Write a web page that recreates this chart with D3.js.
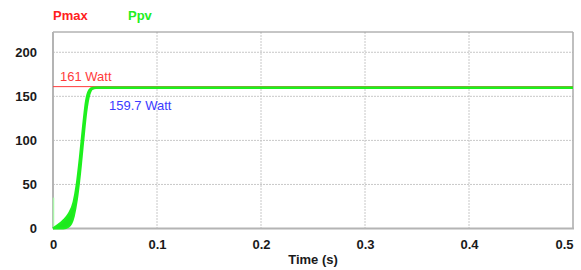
<!DOCTYPE html>
<html><head><meta charset="utf-8">
<script src="https://cdn.jsdelivr.net/npm/d3@7"></script>
<style>body{margin:0;background:#fff;}svg{display:block;font-family:"Liberation Sans",Arial,sans-serif;}</style>
</head><body>
<svg id="c" width="581" height="270"></svg>
<script>
const xTicks = [0, 0.1, 0.2, 0.3, 0.4, 0.5];
const xTickLabels = ["0", "0.1", "0.2", "0.3", "0.4", "0.5"];
const yTicks = [0, 50, 100, 150, 200];
const yTickLabels = ["0", "50", "100", "150", "200"];
const time = [0, 0.005, 0.01, 0.015, 0.02, 0.023, 0.026, 0.029, 0.032, 0.035, 0.038, 0.042, 0.05, 0.5];
const ppvHigh = [0, 4, 9, 16, 30, 50, 80, 115, 145, 157, 159.5, 159.7, 159.7, 159.7];
const ppvLow  = [0, 0, 0, 2, 14, 33, 62, 98, 132, 152, 158.5, 159.7, 159.7, 159.7];
const spikeTime = [0, 0];
const spikeVal = [35, 0];
const pmaxTime = [0, 0.5];
const pmaxVal = [161, 161];
const pmaxLabel = "161 Watt";
const ppvLabel = "159.7 Watt";

const svg = d3.select("#c");
const L = 53, R = 573, T = 32, B = 228.5;
const x = d3.scaleLinear().domain([0, 0.5]).range([L, R]);
const y = d3.scaleLinear().domain([0, 223]).range([B, T]);

// grid
svg.append("g").selectAll("line").data(xTicks.slice(1, -1)).join("line")
  .attr("x1", d => x(d)).attr("x2", d => x(d)).attr("y1", T).attr("y2", B)
  .attr("stroke", "#c8c8c8").attr("stroke-dasharray", "2,1").attr("stroke-width", 1);
svg.append("g").selectAll("line").data(yTicks.slice(1)).join("line")
  .attr("x1", L).attr("x2", R).attr("y1", d => y(d)).attr("y2", d => y(d))
  .attr("stroke", "#c8c8c8").attr("stroke-dasharray", "2,1").attr("stroke-width", 1);

// frame
svg.append("line").attr("x1", L).attr("x2", R).attr("y1", T).attr("y2", T).attr("stroke", "#8c8c8c").attr("stroke-width", 1);
svg.append("line").attr("x1", R).attr("x2", R).attr("y1", T).attr("y2", B).attr("stroke", "#aaaaaa").attr("stroke-width", 1.5);
svg.append("line").attr("x1", L).attr("x2", L).attr("y1", T).attr("y2", B).attr("stroke", "#b4b4b4").attr("stroke-width", 2);
svg.append("line").attr("x1", L).attr("x2", R + 1).attr("y1", B).attr("y2", B).attr("stroke", "#b4b4b4").attr("stroke-width", 2);

// axes labels via d3 axes
const xAxis = d3.axisBottom(x).tickValues(xTicks).tickFormat((d, i) => xTickLabels[i]).tickSize(0).tickPadding(11);
const gx = svg.append("g").attr("transform", `translate(0,${B})`).call(xAxis);
gx.select(".domain").remove();
gx.selectAll("text").attr("font-size", 13).attr("font-weight", "bold").attr("fill", "#1a1a1a").attr("font-family", "Liberation Sans, Arial, sans-serif");
gx.selectAll(".tick").filter(d => d === xTicks[xTicks.length - 1]).select("text").attr("text-anchor", "end");
const yAxis = d3.axisLeft(y).tickValues(yTicks).tickFormat((d, i) => yTickLabels[i]).tickSize(0).tickPadding(16);
const gy = svg.append("g").attr("transform", `translate(${L},0)`).call(yAxis);
gy.select(".domain").remove();
gy.selectAll("text").attr("font-size", 13).attr("font-weight", "bold").attr("fill", "#1a1a1a").attr("font-family", "Liberation Sans, Arial, sans-serif");

svg.append("text").attr("x", x(0.25)).attr("y", 264).attr("text-anchor", "middle")
  .attr("font-size", 13).attr("font-weight", "bold").attr("fill", "#1a1a1a").text("Time (s)");

// Pmax line
const pm = pmaxTime.map((t, i) => [t, pmaxVal[i]]);
svg.append("path").attr("d", d3.line().x(d => x(d[0])).y(d => y(d[1]))(pm))
  .attr("fill", "none").attr("stroke", "#ff3b3b").attr("stroke-width", 1);

// spike
const sp = spikeTime.map((t, i) => [t, spikeVal[i]]);
svg.append("path").attr("d", d3.line().x(d => x(d[0]) + 0.5).y(d => y(d[1]))(sp))
  .attr("fill", "none").attr("stroke", "#a8f5a8").attr("stroke-width", 1.5);

// Ppv band
const pv = time.map((t, i) => ({t, hi: ppvHigh[i], lo: ppvLow[i]}));
svg.append("path").attr("d", d3.area().x(d => x(d.t)).y0(d => y(d.lo)).y1(d => y(d.hi)).curve(d3.curveMonotoneX)(pv))
  .attr("fill", "#1ee81e").attr("stroke", "none");
svg.append("path").attr("d", d3.line().x(d => x(d.t)).y(d => y(d.hi)).curve(d3.curveMonotoneX)(pv))
  .attr("fill", "none").attr("stroke", "#1ef01e").attr("stroke-width", 2.5);
svg.append("path").attr("d", d3.line().x(d => x(d.t)).y(d => y(d.lo)).curve(d3.curveMonotoneX)(pv))
  .attr("fill", "none").attr("stroke", "#1ef01e").attr("stroke-width", 2);

// labels
svg.append("text").attr("x", 60).attr("y", 81).attr("font-size", 13).attr("fill", "#ff3b3b").text(pmaxLabel);
svg.append("text").attr("x", 109).attr("y", 110).attr("font-size", 13).attr("fill", "#3b3bff").text(ppvLabel);

// legend
svg.append("text").attr("x", 53).attr("y", 20).attr("font-size", 13).attr("font-weight", "bold").attr("fill", "#ff2020").text("Pmax");
svg.append("text").attr("x", 128).attr("y", 20).attr("font-size", 13).attr("font-weight", "bold").attr("fill", "#22ee22").text("Ppv");
</script>
</body></html>
